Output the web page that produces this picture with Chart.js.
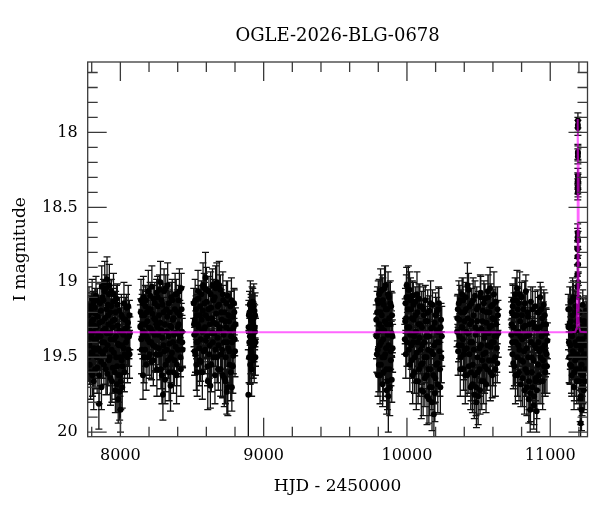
<!DOCTYPE html>
<html>
<head>
<meta charset="utf-8">
<script src="https://cdn.jsdelivr.net/npm/chart.js@4.4.1/dist/chart.umd.min.js"></script>
<style>
  html, body { margin: 0; padding: 0; background: #fff; }
</style>
</head>
<body>
<canvas id="lc" width="600" height="512"></canvas>
<script>
// OGLE light curve: each row is [HJD - 2450000, I mag, error]
const season2017 = [
  [7776,19.22,0.09],[7779,19.41,0.11],[7783,19.30,0.10],[7786,19.55,0.13],[7790,19.18,0.09],[7794,19.37,0.10],
  [7797,19.47,0.12],[7801,19.26,0.09],[7805,19.62,0.14],[7808,19.33,0.10],[7812,19.14,0.08],[7816,19.44,0.11],
  [7820,19.29,0.10],[7824,19.58,0.13],[7828,19.21,0.09],[7832,19.38,0.10],[7836,19.50,0.12],[7840,19.12,0.08],
  [7845,19.35,0.10],[7850,19.81,0.17],[7855,19.27,0.09],[7860,19.46,0.12],[7864,19.19,0.09],[7868,19.70,0.15],
  [7872,19.40,0.11],[7876,19.10,0.08],[7880,19.32,0.10],[7885,19.55,0.13],[7889,19.06,0.08],[7893,19.24,0.09],
  [7897,19.45,0.11],[7901,19.04,0.09],[7905,19.34,0.10],[7909,19.61,0.14],[7913,19.15,0.09],[7917,19.28,0.10],
  [7921,19.08,0.09],[7925,19.50,0.12],[7929,19.20,0.09],[7933,19.38,0.10],[7937,19.06,0.08],[7941,19.66,0.14],
  [7945,19.30,0.10],[7950,19.13,0.09],[7955,19.47,0.12],[7960,19.25,0.10],[7965,19.72,0.15],[7969,19.36,0.11],
  [7973,19.11,0.09],[7977,19.56,0.13],[7981,19.29,0.10],[7985,19.78,0.16],[7989,19.42,0.11],[7993,19.19,0.09],
  [7997,19.62,0.14],[8001,19.85,0.15],[8005,19.33,0.10],[8009,19.52,0.12],[8013,19.70,0.14],[8018,19.24,0.10],
  [8023,19.44,0.11],[8028,19.60,0.13],[8033,19.31,0.10],[8038,19.49,0.12],[8043,19.17,0.09],[8048,19.37,0.10],
  [8053,19.27,0.10],[8058,19.45,0.11],[8063,19.22,0.10],[8066,19.34,0.11],
  [7774,19.33,0.14],[7777,19.50,0.16],[7781,19.16,0.13],[7784,19.42,0.15],[7788,19.28,0.14],[7792,19.60,0.18],
  [7795,19.20,0.13],[7799,19.35,0.14],[7803,19.11,0.13],[7806,19.48,0.16],[7810,19.25,0.14],[7814,19.66,0.19],
  [7818,19.38,0.15],[7822,19.17,0.13],[7826,19.45,0.16],[7830,19.09,0.13],[7834,19.30,0.14],[7838,19.57,0.17],
  [7842,19.23,0.14],[7847,19.44,0.15],[7852,19.62,0.19],[7857,19.14,0.13],[7862,19.36,0.15],[7866,19.53,0.16],
  [7870,19.03,0.14],[7874,19.26,0.14],[7878,19.48,0.16],[7882,19.12,0.14],[7887,19.40,0.15],[7891,19.00,0.14],
  [7895,19.31,0.14],[7899,19.58,0.17],[7903,19.18,0.14],[7907,18.98,0.15],[7911,19.42,0.15],[7915,19.22,0.14],
  [7919,19.52,0.17],[7923,19.02,0.14],[7927,19.34,0.15],[7931,19.64,0.18],[7935,19.16,0.14],[7939,19.45,0.16],
  [7943,19.26,0.14],[7947,19.57,0.17],[7952,19.08,0.14],[7957,19.38,0.15],[7962,19.60,0.18],[7967,19.20,0.14],
  [7971,19.50,0.16],[7975,19.68,0.19],[7979,19.15,0.14],[7983,19.41,0.15],[7987,19.62,0.18],[7991,19.32,0.15],
  [7995,19.73,0.19],[7999,19.50,0.17],[8003,19.66,0.19],[8007,19.22,0.14],[8011,19.42,0.16],[8015,19.56,0.17],
  [8020,19.35,0.15],[8025,19.14,0.14],[8030,19.48,0.16],[8035,19.25,0.15],[8040,19.40,0.16],[8045,19.30,0.15],
  [8050,19.50,0.17],[8055,19.16,0.14],[8060,19.36,0.15],[8064,19.48,0.16]
];
const season2018 = [
  [8142,19.20,0.09],[8146,19.38,0.10],[8150,19.28,0.10],[8155,19.14,0.09],[8158,19.62,0.16],[8163,19.33,0.10],
  [8168,19.22,0.09],[8173,19.45,0.11],[8178,19.12,0.09],[8183,19.36,0.10],[8188,19.26,0.10],[8193,19.50,0.12],
  [8198,19.18,0.09],[8203,19.40,0.11],[8208,19.09,0.09],[8213,19.31,0.10],[8218,19.53,0.12],[8223,19.21,0.09],
  [8228,19.42,0.11],[8233,19.11,0.09],[8238,19.35,0.10],[8243,19.25,0.10],[8248,19.48,0.12],[8253,19.07,0.09],
  [8258,19.30,0.10],[8263,19.16,0.09],[8268,19.44,0.11],[8273,19.05,0.10],[8278,19.27,0.10],[8283,19.58,0.13],
  [8288,19.12,0.09],[8293,19.37,0.11],[8297,19.75,0.17],[8302,19.20,0.10],[8307,19.46,0.12],[8312,19.65,0.16],
  [8317,19.04,0.09],[8322,19.33,0.10],[8327,19.23,0.10],[8332,19.52,0.12],[8337,19.14,0.09],[8342,19.41,0.11],
  [8347,19.29,0.10],[8350,19.69,0.17],[8355,19.10,0.10],[8360,19.47,0.12],[8365,19.25,0.10],[8370,19.60,0.14],
  [8375,19.35,0.11],[8380,19.18,0.10],[8385,19.43,0.11],[8390,19.08,0.10],[8395,19.55,0.14],[8400,19.30,0.10],
  [8405,19.12,0.10],[8410,19.39,0.11],[8415,19.22,0.10],[8420,19.50,0.13],[8425,19.04,0.10],[8430,19.33,0.11],
  [8434,19.45,0.12],
  [8140,19.30,0.15],[8144,19.12,0.14],[8148,19.45,0.16],[8152,19.22,0.14],[8157,19.36,0.15],[8161,19.10,0.14],
  [8165,19.50,0.17],[8170,19.28,0.15],[8175,19.16,0.14],[8180,19.55,0.17],[8185,19.20,0.14],[8190,19.38,0.15],
  [8195,19.06,0.14],[8200,19.30,0.15],[8205,19.48,0.16],[8210,19.18,0.14],[8215,19.40,0.15],[8220,19.03,0.14],
  [8225,19.33,0.15],[8230,19.52,0.17],[8235,19.24,0.14],[8240,19.14,0.14],[8245,19.43,0.16],[8250,19.28,0.15],
  [8255,19.58,0.18],[8260,19.10,0.14],[8265,19.35,0.15],[8270,19.22,0.14],[8275,19.48,0.17],[8280,19.00,0.14],
  [8285,19.32,0.15],[8290,19.62,0.19],[8295,19.15,0.14],[8300,19.42,0.16],[8305,19.06,0.15],[8310,19.28,0.15],
  [8315,19.55,0.18],[8320,19.18,0.14],[8325,19.45,0.16],[8330,19.02,0.15],[8335,19.36,0.15],[8340,19.60,0.19],
  [8345,19.20,0.14],[8352,19.50,0.17],[8357,19.30,0.15],[8362,19.12,0.14],[8367,19.40,0.16],[8372,19.24,0.15],
  [8377,19.52,0.17],[8382,19.08,0.14],[8387,19.34,0.15],[8392,19.62,0.19],[8397,19.20,0.15],[8402,19.45,0.16],
  [8407,19.28,0.15],[8412,19.06,0.15],[8417,19.36,0.15],[8422,19.58,0.18],[8427,19.18,0.15],[8432,19.40,0.16]
];
const season2019 = [
  [8512,19.14,0.10],[8516,19.35,0.11],[8520,19.25,0.10],[8524,19.48,0.12],[8528,19.18,0.09],[8532,19.40,0.11],
  [8536,19.60,0.16],[8540,19.28,0.10],[8545,19.11,0.09],[8550,19.44,0.11],[8555,19.22,0.10],[8560,19.53,0.13],
  [8565,19.08,0.09],[8570,19.33,0.10],[8575,19.19,0.10],[8580,19.46,0.12],[8585,19.04,0.10],[8590,19.30,0.10],
  [8594,18.97,0.17],[8598,19.39,0.11],[8603,19.13,0.10],[8608,19.56,0.13],[8613,19.24,0.10],[8618,19.06,0.10],
  [8623,19.42,0.11],[8628,19.69,0.15],[8633,19.17,0.10],[8638,19.34,0.10],[8643,19.02,0.11],[8648,19.50,0.12],
  [8653,19.27,0.10],[8658,19.10,0.10],[8663,19.45,0.11],[8668,19.21,0.10],[8673,19.00,0.13],[8678,19.37,0.11],
  [8683,19.58,0.14],[8688,19.15,0.10],[8693,19.32,0.10],[8698,19.05,0.10],[8703,19.48,0.12],[8708,19.25,0.10],
  [8713,19.62,0.15],[8718,19.12,0.10],[8723,19.40,0.11],[8728,19.20,0.10],[8733,19.66,0.15],[8738,19.30,0.10],
  [8743,19.73,0.15],[8748,19.09,0.10],[8753,19.44,0.12],[8758,19.26,0.10],[8763,19.55,0.13],[8768,19.16,0.10],
  [8773,19.36,0.11],[8778,19.70,0.16],[8783,19.23,0.10],[8788,19.49,0.12],[8793,19.14,0.10],[8798,19.38,0.11],
  [8803,19.28,0.11],
  [8514,19.28,0.15],[8518,19.46,0.16],[8522,19.12,0.14],[8526,19.34,0.15],[8530,19.55,0.17],[8534,19.22,0.14],
  [8538,19.40,0.16],[8542,19.06,0.14],[8547,19.30,0.15],[8552,19.52,0.17],[8557,19.16,0.14],[8562,19.38,0.15],
  [8567,19.25,0.15],[8572,19.60,0.18],[8577,19.02,0.15],[8582,19.32,0.15],[8587,19.14,0.14],[8592,19.45,0.16],
  [8596,19.22,0.15],[8600,19.05,0.15],[8605,19.36,0.15],[8610,19.66,0.19],[8615,19.18,0.14],[8620,19.48,0.16],
  [8625,19.28,0.15],[8630,19.08,0.15],[8635,19.55,0.18],[8640,19.24,0.15],[8645,19.40,0.16],[8650,19.12,0.14],
  [8655,19.34,0.15],[8660,19.62,0.19],[8665,19.04,0.15],[8670,19.28,0.15],[8675,19.50,0.17],[8680,19.16,0.15],
  [8685,19.42,0.16],[8690,19.02,0.16],[8695,19.30,0.15],[8700,19.58,0.18],[8705,19.20,0.15],[8710,19.45,0.16],
  [8715,19.08,0.15],[8720,19.35,0.15],[8725,19.64,0.19],[8730,19.26,0.15],[8735,19.50,0.17],[8740,19.14,0.15],
  [8745,19.40,0.16],[8750,19.70,0.19],[8755,19.22,0.15],[8760,19.46,0.17],[8765,19.32,0.15],[8770,19.60,0.19],
  [8775,19.12,0.15],[8780,19.40,0.16],[8785,19.56,0.18],[8790,19.30,0.15],[8795,19.20,0.15],[8800,19.46,0.17]
];
const season2020 = [
  [8893,19.75,0.30],[8897,19.22,0.10],[8900,19.40,0.11],[8903,19.15,0.09],[8906,19.55,0.13],[8909,19.30,0.10],
  [8912,19.18,0.10],[8915,19.47,0.12],[8918,19.26,0.10],[8921,19.36,0.11],[8924,19.13,0.09],[8927,19.52,0.12],
  [8930,19.24,0.10],[8933,19.42,0.11],[8936,19.19,0.10],[8939,19.33,0.10],[8942,19.50,0.12],
  [8895,19.30,0.15],[8898,19.50,0.17],[8901,19.20,0.14],[8904,19.36,0.15],[8907,19.14,0.15],[8910,19.45,0.16],
  [8913,19.25,0.15],[8916,19.58,0.18],[8919,19.18,0.15],[8922,19.42,0.16],[8925,19.28,0.15],[8928,19.38,0.15],
  [8931,19.16,0.15],[8934,19.50,0.17],[8937,19.30,0.15],[8940,19.22,0.15],[8943,19.40,0.16]
];
const season2022 = [
  [9786,19.25,0.10],[9790,19.48,0.12],[9794,19.12,0.09],[9798,19.62,0.14],[9802,19.33,0.10],[9806,19.08,0.10],
  [9810,19.42,0.11],[9814,19.20,0.10],[9818,19.55,0.13],[9822,19.30,0.10],[9826,19.05,0.10],[9830,19.68,0.15],
  [9834,19.38,0.11],[9838,19.15,0.10],[9842,19.50,0.12],[9846,19.26,0.10],[9850,19.02,0.13],[9854,19.44,0.11],
  [9858,19.72,0.16],[9862,19.18,0.10],[9866,19.35,0.11],[9870,19.76,0.24],[9874,19.10,0.10],[9878,19.58,0.14],
  [9882,19.28,0.10],[9886,19.46,0.12],[9890,19.16,0.10],[9894,19.65,0.15],[9898,19.36,0.11],
  [9788,19.36,0.15],[9792,19.20,0.14],[9796,19.45,0.16],[9800,19.14,0.15],[9804,19.55,0.18],[9808,19.28,0.15],
  [9812,19.62,0.19],[9816,19.06,0.15],[9820,19.40,0.16],[9824,19.22,0.15],[9828,19.50,0.17],[9832,19.12,0.15],
  [9836,19.60,0.19],[9840,19.32,0.15],[9844,19.04,0.15],[9848,19.48,0.17],[9852,19.18,0.15],[9856,19.58,0.18],
  [9860,19.28,0.15],[9864,19.66,0.19],[9868,19.08,0.15],[9872,19.42,0.16],[9876,19.24,0.15],[9880,19.70,0.19],
  [9884,19.14,0.15],[9888,19.52,0.17],[9892,19.34,0.15],[9896,19.22,0.15],[9900,19.44,0.16]
];
const season2023 = [
  [9985,19.38,0.10],[9990,19.14,0.10],[9994,19.24,0.10],[9998,19.02,0.12],[10003,19.30,0.10],[10008,19.10,0.10],
  [10013,19.45,0.11],[10018,19.05,0.12],[10023,19.35,0.10],[10028,19.18,0.10],[10033,19.52,0.12],[10038,19.09,0.10],
  [10043,19.40,0.11],[10048,19.25,0.10],[10053,19.60,0.14],[10058,19.13,0.10],[10063,19.33,0.10],[10068,19.47,0.12],
  [10073,19.20,0.10],[10078,19.66,0.15],[10083,19.11,0.10],[10088,19.37,0.11],[10093,19.28,0.10],[10098,19.55,0.13],
  [10103,19.16,0.10],[10108,19.42,0.11],[10113,19.73,0.16],[10118,19.22,0.10],[10123,19.50,0.12],[10128,19.12,0.10],
  [10133,19.36,0.11],[10138,19.62,0.14],[10143,19.26,0.10],[10148,19.45,0.12],[10153,19.78,0.16],[10158,19.19,0.10],
  [10163,19.58,0.13],[10168,19.31,0.10],[10173,19.70,0.15],[10178,19.15,0.10],[10183,19.48,0.12],[10188,19.88,0.15],
  [10193,19.27,0.10],[10198,19.64,0.16],[10203,19.40,0.11],[10208,19.20,0.10],[10213,19.54,0.13],[10218,19.33,0.11],
  [10223,19.14,0.10],[10228,19.46,0.12],[10233,19.70,0.18],[10238,19.25,0.11],[10243,19.36,0.20],
  [9988,19.26,0.15],[9992,19.48,0.16],[9996,19.10,0.15],[10000,19.40,0.16],[10005,19.18,0.15],[10010,19.05,0.16],
  [10015,19.30,0.15],[10020,19.55,0.18],[10025,19.12,0.15],[10030,19.42,0.16],[10035,19.24,0.15],[10040,19.62,0.19],
  [10045,19.15,0.15],[10050,19.36,0.15],[10055,19.50,0.17],[10060,19.22,0.15],[10065,19.66,0.19],[10070,19.08,0.15],
  [10075,19.40,0.16],[10080,19.28,0.15],[10085,19.58,0.18],[10090,19.16,0.15],[10095,19.45,0.16],[10100,19.72,0.19],
  [10105,19.30,0.15],[10110,19.54,0.17],[10115,19.18,0.15],[10120,19.40,0.16],[10125,19.64,0.19],[10130,19.26,0.15],
  [10135,19.50,0.17],[10140,19.76,0.19],[10145,19.20,0.15],[10150,19.58,0.18],[10155,19.36,0.15],[10160,19.70,0.19],
  [10165,19.14,0.15],[10170,19.46,0.16],[10175,19.80,0.19],[10180,19.30,0.15],[10185,19.62,0.19],[10190,19.42,0.16],
  [10195,19.74,0.19],[10200,19.22,0.15],[10205,19.55,0.18],[10210,19.32,0.16],[10215,19.68,0.19],[10220,19.18,0.15],
  [10225,19.40,0.16],[10230,19.58,0.18],[10235,19.30,0.16],[10240,19.50,0.17]
];
const season2024 = [
  [10350,19.33,0.10],[10355,19.18,0.10],[10360,19.42,0.11],[10365,19.25,0.10],[10370,19.12,0.10],[10375,19.50,0.12],
  [10380,19.30,0.10],[10385,19.08,0.11],[10390,19.38,0.11],[10395,19.58,0.14],[10400,19.20,0.10],[10405,19.45,0.11],
  [10410,19.10,0.10],[10415,19.33,0.10],[10420,19.62,0.14],[10425,19.24,0.10],[10430,19.05,0.11],[10435,19.48,0.12],
  [10440,19.28,0.10],[10445,19.70,0.15],[10450,19.14,0.10],[10455,19.40,0.11],[10460,19.55,0.13],[10465,19.22,0.10],
  [10470,19.75,0.16],[10475,19.09,0.10],[10480,19.35,0.11],[10485,19.80,0.17],[10490,19.26,0.10],[10495,19.60,0.14],
  [10500,19.16,0.10],[10505,19.44,0.11],[10510,19.72,0.16],[10515,19.07,0.11],[10520,19.31,0.10],[10525,19.52,0.12],
  [10530,19.19,0.10],[10535,19.66,0.15],[10540,19.37,0.11],[10545,19.11,0.10],[10550,19.47,0.12],[10555,19.27,0.10],
  [10560,19.58,0.14],[10565,19.06,0.11],[10570,19.34,0.10],[10575,19.20,0.10],[10580,19.04,0.14],[10585,19.43,0.11],
  [10590,19.29,0.10],[10595,19.62,0.15],[10600,19.15,0.10],[10605,19.40,0.11],[10610,19.25,0.10],[10615,19.50,0.12],
  [10620,19.13,0.10],[10625,19.36,0.11],[10630,19.54,0.13],[10635,19.22,0.10],
  [10352,19.24,0.15],[10357,19.46,0.16],[10362,19.14,0.15],[10367,19.36,0.15],[10372,19.58,0.18],[10377,19.20,0.15],
  [10382,19.42,0.16],[10387,19.30,0.15],[10392,19.12,0.15],[10397,19.48,0.17],[10402,19.26,0.15],[10407,19.62,0.19],
  [10412,19.18,0.15],[10417,19.44,0.16],[10422,19.02,0.15],[10427,19.34,0.15],[10432,19.56,0.18],[10437,19.16,0.15],
  [10442,19.40,0.16],[10447,19.60,0.19],[10452,19.26,0.15],[10457,19.68,0.19],[10462,19.12,0.15],[10467,19.45,0.16],
  [10472,19.62,0.19],[10477,19.30,0.15],[10482,19.70,0.19],[10487,19.18,0.15],[10492,19.50,0.17],[10497,19.76,0.19],
  [10502,19.32,0.15],[10507,19.58,0.18],[10512,19.10,0.15],[10517,19.42,0.16],[10522,19.66,0.19],[10527,19.26,0.15],
  [10532,19.48,0.17],[10537,19.14,0.15],[10542,19.56,0.18],[10547,19.34,0.15],[10552,19.68,0.19],[10557,19.20,0.15],
  [10562,19.42,0.16],[10567,19.10,0.15],[10572,19.52,0.17],[10577,19.30,0.15],[10582,19.60,0.19],[10587,19.16,0.15],
  [10592,19.40,0.16],[10597,19.24,0.15],[10602,19.52,0.17],[10607,19.08,0.15],[10612,19.36,0.15],[10617,19.58,0.18],
  [10622,19.28,0.15],[10627,19.44,0.16],[10632,19.18,0.15],[10637,19.34,0.16]
];
const season2025 = [
  [10728,19.35,0.10],[10732,19.20,0.10],[10736,19.48,0.12],[10740,19.12,0.10],[10745,19.30,0.10],[10750,19.56,0.13],
  [10755,19.08,0.11],[10760,19.40,0.11],[10765,19.22,0.10],[10768,19.04,0.12],[10772,19.62,0.14],[10776,19.33,0.10],
  [10780,19.14,0.10],[10785,19.45,0.11],[10790,19.26,0.10],[10795,19.68,0.15],[10800,19.10,0.10],[10805,19.38,0.11],
  [10810,19.53,0.12],[10815,19.18,0.10],[10820,19.72,0.16],[10825,19.29,0.10],[10830,19.06,0.11],[10835,19.44,0.11],
  [10840,19.60,0.14],[10845,19.23,0.10],[10850,19.78,0.16],[10855,19.35,0.11],[10860,19.85,0.15],[10865,19.13,0.10],
  [10870,19.50,0.12],[10875,19.70,0.16],[10880,19.27,0.10],[10885,19.82,0.16],[10890,19.42,0.11],[10895,19.16,0.10],
  [10900,19.64,0.15],[10905,19.86,0.14],[10910,19.31,0.10],[10915,19.55,0.13],[10920,19.20,0.10],[10925,19.46,0.12],
  [10930,19.10,0.10],[10935,19.66,0.15],[10940,19.36,0.11],[10945,19.24,0.10],[10950,19.52,0.13],[10955,19.15,0.10],
  [10960,19.42,0.12],[10965,19.60,0.16],[10970,19.28,0.11],[10975,19.48,0.13],[10980,19.39,0.12],
  [10730,19.28,0.15],[10734,19.40,0.16],[10738,19.16,0.15],[10742,19.54,0.17],[10747,19.22,0.15],[10752,19.40,0.16],
  [10757,19.62,0.19],[10762,19.12,0.15],[10767,19.34,0.15],[10770,19.50,0.17],[10774,19.18,0.15],[10778,19.42,0.16],
  [10782,19.60,0.19],[10787,19.08,0.15],[10792,19.36,0.15],[10797,19.52,0.17],[10802,19.22,0.15],[10807,19.64,0.19],
  [10812,19.30,0.15],[10817,19.46,0.16],[10822,19.14,0.15],[10827,19.58,0.18],[10832,19.36,0.15],[10837,19.70,0.19],
  [10842,19.20,0.15],[10847,19.50,0.17],[10852,19.66,0.19],[10857,19.28,0.15],[10862,19.74,0.19],[10867,19.40,0.16],
  [10872,19.60,0.19],[10877,19.18,0.15],[10882,19.52,0.17],[10887,19.76,0.19],[10892,19.30,0.15],[10897,19.66,0.19],
  [10902,19.44,0.16],[10907,19.72,0.19],[10912,19.20,0.15],[10917,19.40,0.16],[10922,19.62,0.19],[10927,19.30,0.15],
  [10932,19.50,0.17],[10937,19.18,0.15],[10942,19.44,0.16],[10947,19.66,0.19],[10952,19.28,0.15],[10957,19.56,0.18],
  [10962,19.22,0.15],[10967,19.46,0.17],[10972,19.34,0.16],[10977,19.56,0.18]
];
const season2026 = [
  [11126,19.18,0.10],[11130,19.40,0.11],[11134,19.28,0.10],[11138,19.55,0.13],[11142,19.13,0.10],[11146,19.35,0.11],
  [11150,19.62,0.14],[11154,19.22,0.10],[11158,19.46,0.12],[11162,19.10,0.11],[11166,19.70,0.15],[11170,19.31,0.10],
  [11174,19.52,0.12],[11178,19.16,0.10],[11182,19.42,0.11],[11185,19.66,0.15],[11188,19.26,0.10],
  [11200,19.38,0.11],[11203,19.58,0.14],[11206,19.20,0.10],[11209,19.78,0.15],[11212,19.94,0.10],[11215,19.45,0.12],
  [11218,19.85,0.14],[11221,19.30,0.10],[11224,19.62,0.14],[11227,19.15,0.10],[11230,19.50,0.12],[11234,19.72,0.15],
  [11238,19.26,0.10],[11242,19.42,0.12],[11246,19.58,0.14],[11250,19.19,0.10],[11254,19.36,0.11],[11258,19.48,0.12],
  [11128,19.30,0.15],[11132,19.50,0.17],[11136,19.18,0.15],[11140,19.42,0.16],[11144,19.26,0.15],[11148,19.56,0.18],
  [11152,19.36,0.15],[11156,19.12,0.15],[11160,19.48,0.17],[11164,19.30,0.15],[11168,19.60,0.19],[11172,19.20,0.15],
  [11176,19.40,0.16],[11180,19.58,0.18],[11184,19.32,0.15],[11187,19.48,0.17],[11198,19.50,0.17],[11201,19.25,0.15],
  [11204,19.66,0.19],[11207,19.42,0.16],[11210,19.60,0.19],[11213,19.76,0.19],[11216,19.30,0.15],[11219,19.55,0.18],
  [11222,19.70,0.19],[11225,19.38,0.16],[11228,19.62,0.19],[11232,19.26,0.15],[11236,19.48,0.17],[11240,19.66,0.19],
  [11244,19.30,0.15],[11248,19.50,0.17],[11252,19.28,0.15],[11256,19.42,0.16]
];
// the microlensing event itself
const peak2026 = [
  [11189,19.03,0.07],[11189.5,18.95,0.07],[11190,18.83,0.06],[11190.5,18.78,0.06],[11191,18.70,0.06],[11191.5,18.67,0.06],
  [11192,18.40,0.05],[11192.3,18.36,0.05],[11192.5,18.32,0.05],[11192.7,18.29,0.05],[11192.8,18.16,0.05],[11192.9,18.13,0.05],
  [11193,17.95,0.05],[11193.05,17.92,0.05],[11193.1,17.97,0.05],[11193.2,18.14,0.05],[11193.3,18.33,0.05],[11193.5,18.38,0.05],
  [11194,18.72,0.06],[11194.5,18.88,0.06],[11195,19.00,0.07],[11196,19.10,0.08]
];
// model curve
const modelHjd = [7772, 11150, 11175, 11182, 11186, 11188, 11190, 11192, 11193, 11194, 11196, 11198, 11200, 11204, 11211, 11260];
const modelMag = [19.333, 19.333, 19.33, 19.31, 19.25, 19.1, 18.75, 18.2, 17.91, 18.2, 18.75, 19.1, 19.25, 19.31, 19.33, 19.333];

const xMajorTicks = [8000, 9000, 10000, 11000];
const xMinorTicks = [7800, 8200, 8400, 8600, 8800, 9200, 9400, 9600, 9800, 10200, 10400, 10600, 10800, 11200];
const yMajorTicks = [18, 18.5, 19, 19.5, 20];
const yMinorTicks = [17.6, 17.7, 17.8, 17.9, 18.1, 18.2, 18.3, 18.4, 18.6, 18.7, 18.8, 18.9, 19.1, 19.2, 19.3, 19.4, 19.6, 19.7, 19.8, 19.9];

const SERIF = '"DejaVu Serif", "Liberation Serif", serif';

const obs = [].concat(season2017, season2018, season2019, season2020, season2022,
                      season2023, season2024, season2025, season2026, peak2026);
const obsPoints = obs.map(r => ({ x: r[0], y: r[1], err: r[2] }));
const modelPoints = modelHjd.map((h, i) => ({ x: h, y: modelMag[i] }));

// vertical error bars with small caps, drawn under the points
const errorBarPlugin = {
  id: 'errorBars',
  beforeDatasetsDraw(chart) {
    const ctx = chart.ctx;
    const xs = chart.scales.x, ys = chart.scales.y;
    const a = chart.chartArea;
    ctx.save();
    ctx.beginPath();
    ctx.rect(a.left, a.top, a.right - a.left, a.bottom - a.top);
    ctx.clip();
    ctx.strokeStyle = '#111';
    ctx.lineWidth = 1.3;
    ctx.beginPath();
    obsPoints.forEach(p => {
      const px = xs.getPixelForValue(p.x);
      const y1 = ys.getPixelForValue(p.y - p.err);
      const y2 = ys.getPixelForValue(p.y + p.err);
      ctx.moveTo(px, y1); ctx.lineTo(px, y2);
      ctx.moveTo(px - 3.5, y1); ctx.lineTo(px + 3.5, y1);
      ctx.moveTo(px - 3.5, y2); ctx.lineTo(px + 3.5, y2);
    });
    ctx.stroke();
    ctx.restore();
  }
};

// box frame with inward ticks on all four sides, plus the title
const framePlugin = {
  id: 'frame',
  afterDraw(chart) {
    const ctx = chart.ctx;
    const xs = chart.scales.x, ys = chart.scales.y;
    const a = chart.chartArea;
    ctx.save();
    ctx.strokeStyle = '#3a3a3a';
    ctx.lineWidth = 1.3;
    ctx.strokeRect(a.left, a.top, a.right - a.left, a.bottom - a.top);
    ctx.beginPath();
    const xt = (v, len) => {
      const px = xs.getPixelForValue(v);
      ctx.moveTo(px, a.bottom); ctx.lineTo(px, a.bottom - len);
      ctx.moveTo(px, a.top); ctx.lineTo(px, a.top + len);
    };
    const yt = (v, len) => {
      const py = ys.getPixelForValue(v);
      ctx.moveTo(a.left, py); ctx.lineTo(a.left + len, py);
      ctx.moveTo(a.right, py); ctx.lineTo(a.right - len, py);
    };
    xMajorTicks.forEach(v => xt(v, 19));
    xMinorTicks.forEach(v => xt(v, 10));
    yMajorTicks.forEach(v => yt(v, 19));
    yMinorTicks.forEach(v => yt(v, 10));
    ctx.stroke();

    ctx.fillStyle = '#000';
    ctx.font = '18px ' + SERIF;
    ctx.textAlign = 'center';
    ctx.textBaseline = 'middle';
    ctx.fillText('OGLE-2026-BLG-0678', (a.left + a.right) / 2, 36);
    ctx.restore();
  }
};

new Chart(document.getElementById('lc'), {
  type: 'scatter',
  data: {
    datasets: [{
      label: 'model',
      data: modelPoints,
      showLine: true,
      borderColor: 'rgba(255, 0, 255, 0.6)',
      borderWidth: 2,
      pointRadius: 0,
      tension: 0,
      order: 0
    }, {
      label: 'OGLE I',
      data: obsPoints,
      pointRadius: 3,
      pointBackgroundColor: '#000',
      pointBorderWidth: 0,
      order: 1
    }]
  },
  options: {
    responsive: false,
    animation: false,
    layout: { padding: { left: 0, right: 12.5, top: 62, bottom: 0 } },
    plugins: { legend: { display: false }, tooltip: { enabled: false } },
    scales: {
      x: {
        type: 'linear',
        min: 7772,
        max: 11260,
        grid: { display: false, drawTicks: false },
        border: { display: false },
        ticks: {
          color: '#000',
          font: { family: SERIF, size: 16 },
          padding: 10,
          autoSkip: false,
          maxRotation: 0,
          callback: v => String(v)
        },
        afterBuildTicks: s => { s.ticks = xMajorTicks.map(v => ({ value: v })); },
        afterFit: s => { s.height = 75.3; },
        title: {
          display: true,
          text: 'HJD - 2450000',
          color: '#000',
          font: { family: SERIF, size: 17 },
          padding: { top: 0, bottom: 15 }
        }
      },
      y: {
        type: 'linear',
        reverse: true,
        min: 17.53,
        max: 20.03,
        grid: { display: false, drawTicks: false },
        border: { display: false },
        ticks: {
          color: '#000',
          font: { family: SERIF, size: 16 },
          padding: 10,
          autoSkip: false,
          callback: v => String(v)
        },
        afterBuildTicks: s => { s.ticks = yMajorTicks.map(v => ({ value: v })); },
        afterFit: s => { s.width = 87.7; },
        title: {
          display: true,
          text: 'I magnitude',
          color: '#000',
          font: { family: SERIF, size: 17 },
          padding: { top: 10, bottom: 0 }
        }
      }
    }
  },
  plugins: [errorBarPlugin, framePlugin]
});
</script>
</body>
</html>
